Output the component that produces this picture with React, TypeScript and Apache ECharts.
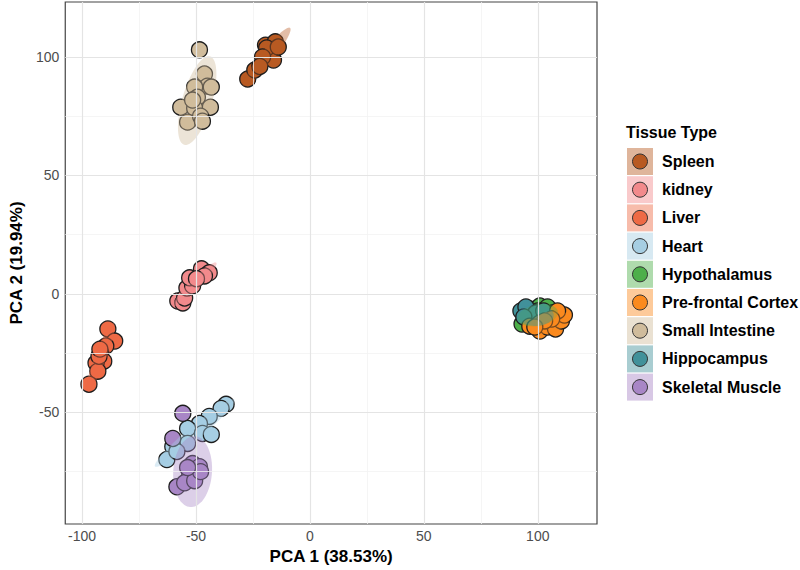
import React, { useEffect, useRef } from "react";
import * as echarts from "echarts";

const tissues = [
  "Spleen",
  "kidney",
  "Liver",
  "Heart",
  "Hypothalamus",
  "Pre-frontal Cortex",
  "Small Intestine",
  "Hippocampus",
  "Skeletal Muscle",
];
const colors = [
  "#B85A22",
  "#F28A8C",
  "#EE6A45",
  "#A6CEE3",
  "#4DAF4A",
  "#FB8A1E",
  "#D0BC9C",
  "#41919A",
  "#A886C6",
];

const spleenX = [-27.3, -24.2, -19.5, -15.2, -17.7, -16, -19, -20.8, -13.9, -22];
const spleenY = [90.7, 94.5, 105, 106.4, 100.8, 98.7, 103.8, 100, 104.2, 96];
const kidneyX = [-58, -55.8, -55, -54, -51.5, -52.8, -47.6, -44.2, -46.3, -49.8];
const kidneyY = [-3, -3.8, -1.7, 2.5, 3.4, 6.8, 10.6, 8.9, 7.6, 6.4];
const liverX = [-88.7, -85.7, -89.6, -91.8, -90.5, -93.9, -93.1, -92.6, -97, -92.2];
const liverY = [-14.8, -19.9, -22, -25, -28.4, -29.2, -32.6, -26.3, -38.1, -23.3];
const heartX = [-36.8, -39, -44.2, -48.5, -53.7, -47.2, -43.3, -53.7, -60.2, -62.8, -58.4];
const heartY = [-46.6, -48.3, -51.7, -54.7, -56.8, -58.9, -59.3, -63.1, -64.4, -69.9, -66.5];
const hypothalamusX = [93.1, 96.5, 100.9, 104.3, 106.5, 99.6, 103.9, 95.7, 107.8, 100];
const hypothalamusY = [-12.7, -6.4, -5.1, -5.5, -8.1, -10.6, -9.3, -9.7, -10.6, -7.2];
const prefrontalX = [96.5, 100.9, 104.3, 107.8, 110.4, 111.7, 108.7, 106.1, 103, 98.7];
const prefrontalY = [-13.6, -15.7, -14, -14.8, -11.4, -8.9, -7.2, -10.6, -11.4, -14];
const intestineX = [-48.5, -46.3, -45, -50.6, -43.3, -49.4, -56.7, -50.6, -43.7, -53.7, -48, -47.2, -51.5];
const intestineY = [103, 92.8, 87.7, 87.3, 87.3, 83, 78.8, 78.4, 78.8, 72.5, 75, 72.9, 81.8];
const hippocampusX = [92.6, 94.8, 96.5, 99.1, 102.6, 105.2, 93.9, 100.9, 107.8, 104.3];
const hippocampusY = [-7.2, -5.5, -11.4, -8.1, -7.2, -11.4, -9.7, -12.3, -12.7, -13.6];
const muscleX = [-55.8, -60.2, -51.5, -48.5, -52.8, -58.4, -55, -50.6, -48, -53.7];
const muscleY = [-50.4, -61, -71.6, -72.9, -75.8, -81.4, -79.7, -78.8, -75, -73.3];

const xs = [spleenX, kidneyX, liverX, heartX, hypothalamusX, prefrontalX, intestineX, hippocampusX, muscleX];
const ys = [spleenY, kidneyY, liverY, heartY, hypothalamusY, prefrontalY, intestineY, hippocampusY, muscleY];

// stat_ellipse-like shapes (center, semi-axes, rotation in degrees)
const ellipseCx = [-19, -50.6, -91.8, -50.6, 100, 105, -49.5, 99, -51.5];
const ellipseCy = [100, 4, -26.3, -58.7, -9, -12, 81.6, -9, -75];
const ellipseA = [16, 13.2, 15, 22.4, 9, 9, 19.5, 8, 15];
const ellipseB = [2.8, 2.2, 2.5, 3, 4.5, 4.5, 6.5, 4.5, 8.5];
const ellipseAngle = [50, 44, 68, 39, 10, 15, 73, 0, 86];

const drawOrder = [0, 1, 2, 3, 4, 7, 5, 6, 8];

const xTicks = [-100, -50, 0, 50, 100];
const xMinor = [-75, -25, 25, 75];
const yTicks = [-50, 0, 50, 100];
const yMinor = [-75, -25, 25, 75];
const xRange = [-107.4, 126];
const yRange = [-97.1, 123.2];

const xTitle = "PCA 1 (38.53%)";
const yTitle = "PCA 2 (19.94%)";
const legendTitle = "Tissue Type";

const FONT = '"Liberation Sans", Arial, sans-serif';

function rgba(hex: string, a: number) {
  const r = parseInt(hex.slice(1, 3), 16);
  const g = parseInt(hex.slice(3, 5), 16);
  const b = parseInt(hex.slice(5, 7), 16);
  return `rgba(${r},${g},${b},${a})`;
}

export default function App() {
  const ref = useRef<HTMLDivElement>(null);
  useEffect(() => {
    if (!ref.current) return;
    const chart = echarts.init(ref.current, null, { renderer: "svg" });

    const gridSeries: any = {
      type: "line",
      data: [],
      z: 1,
      silent: true,
      markLine: {
        silent: true,
        symbol: "none",
        animation: false,
        label: { show: false },
        data: [
          ...xMinor.map((v) => ({ xAxis: v, lineStyle: { color: "#f3f3f3", width: 0.8, type: "solid" } })),
          ...yMinor.map((v) => ({ yAxis: v, lineStyle: { color: "#f3f3f3", width: 0.8, type: "solid" } })),
          ...xTicks.map((v) => ({ xAxis: v, lineStyle: { color: "#e4e4e4", width: 1.2, type: "solid" } })),
          ...yTicks.map((v) => ({ yAxis: v, lineStyle: { color: "#e4e4e4", width: 1.2, type: "solid" } })),
        ],
      },
    };

    const scatterSeries = drawOrder.map((i) => ({
      type: "scatter",
      name: tissues[i],
      z: 2,
      symbol: "circle",
      symbolSize: 16,
      itemStyle: { color: colors[i], borderColor: "#1e1e1e", borderWidth: 1.3, opacity: 1 },
      data: xs[i].map((x, k) => [x, ys[i][k]]),
    }));

    const ellipseSeries = tissues.map((t, i) => ({
      type: "custom",
      name: t + " ellipse",
      z: 3,
      silent: true,
      encode: { x: 0, y: 1 },
      data: [[ellipseCx[i], ellipseCy[i], ellipseA[i], ellipseB[i], ellipseAngle[i]]],
      renderItem: (_params: any, api: any) => {
        const cx = api.value(0);
        const cy = api.value(1);
        const a = api.value(2);
        const b = api.value(3);
        const th = (api.value(4) * Math.PI) / 180;
        const pts: number[][] = [];
        for (let k = 0; k < 80; k++) {
          const t = (2 * Math.PI * k) / 80;
          const dx = a * Math.cos(t);
          const dy = b * Math.sin(t);
          const px = cx + dx * Math.cos(th) - dy * Math.sin(th);
          const py = cy + dx * Math.sin(th) + dy * Math.cos(th);
          pts.push(api.coord([px, py]));
        }
        return {
          type: "polygon",
          shape: { points: pts },
          style: { fill: rgba(colors[i], 0.4), stroke: "none" },
        };
      },
    }));

    const legendEls: any[] = [
      {
        type: "text",
        x: 626,
        y: 132,
        style: {
          text: legendTitle,
          fontFamily: FONT,
          fontWeight: "bold",
          fontSize: 16,
          fill: "#000",
          verticalAlign: "middle",
        },
      },
    ];
    tissues.forEach((t, i) => {
      const cy = 161.5 + i * 28.2;
      legendEls.push({
        type: "rect",
        shape: { x: 627, y: cy - 13.5, width: 26, height: 27 },
        style: { fill: rgba(colors[i], 0.45) },
      });
      legendEls.push({
        type: "circle",
        shape: { cx: 640, cy, r: 7.5 },
        style: { fill: colors[i], stroke: "#333", lineWidth: 1 },
      });
      legendEls.push({
        type: "text",
        x: 662,
        y: cy,
        style: {
          text: t,
          fontFamily: FONT,
          fontWeight: "bold",
          fontSize: 16,
          fill: "#000",
          verticalAlign: "middle",
        },
      });
    });

    chart.setOption({
      animation: false,
      backgroundColor: "#ffffff",
      grid: {
        left: 58,
        right: 203,
        top: 2,
        bottom: 46,
        show: true,
        borderColor: "#444",
        borderWidth: 1.2,
        backgroundColor: "#fff",
      },
      xAxis: {
        type: "value",
        min: xRange[0],
        max: xRange[1],
        axisLine: { show: false },
        splitLine: { show: false },
        axisTick: { show: true, customValues: xTicks, length: 4, lineStyle: { color: "#444", width: 1 } },
        axisLabel: {
          customValues: xTicks,
          color: "#4d4d4d",
          fontSize: 14,
          fontFamily: FONT,
          margin: 5,
        },
        name: xTitle,
        nameLocation: "middle",
        nameGap: 21,
        nameTextStyle: { fontFamily: FONT, fontWeight: "bold", fontSize: 17, color: "#000" },
      },
      yAxis: {
        type: "value",
        min: yRange[0],
        max: yRange[1],
        axisLine: { show: false },
        splitLine: { show: false },
        axisTick: { show: true, customValues: yTicks, length: 4, lineStyle: { color: "#444", width: 1 } },
        axisLabel: {
          customValues: yTicks,
          color: "#4d4d4d",
          fontSize: 14,
          fontFamily: FONT,
          margin: 6,
        },
        name: yTitle,
        nameLocation: "middle",
        nameGap: 38,
        nameTextStyle: { fontFamily: FONT, fontWeight: "bold", fontSize: 17, color: "#000" },
      },
      graphic: { elements: legendEls },
      series: [gridSeries, ...scatterSeries, ...ellipseSeries],
    });
    return () => chart.dispose();
  }, []);
  return (
    <div
      ref={ref}
      style={{ position: "fixed", left: 0, top: 0, width: 800, height: 570 }}
    />
  );
}
